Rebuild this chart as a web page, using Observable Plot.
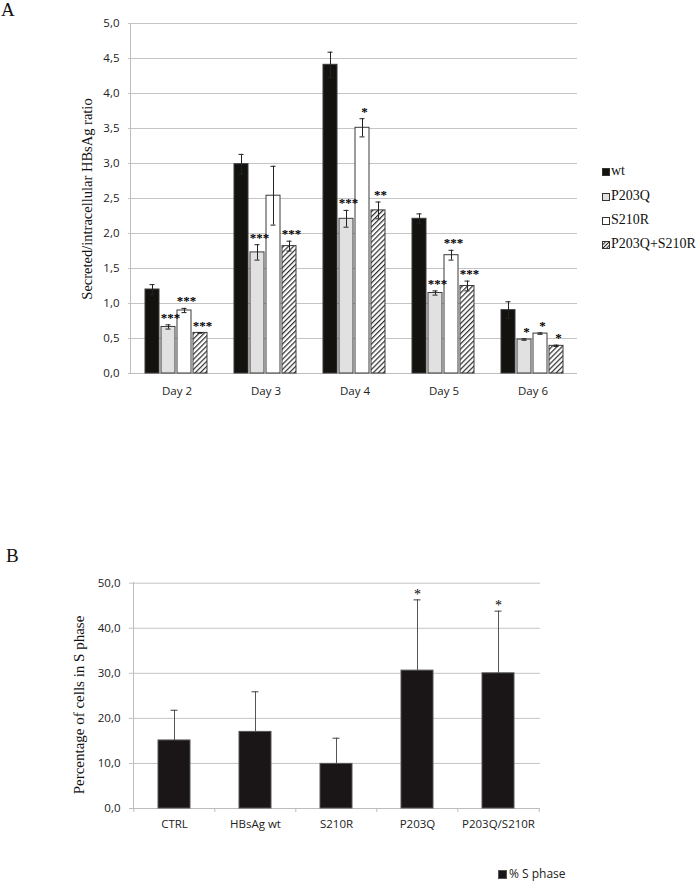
<!DOCTYPE html>
<html><head><meta charset="utf-8">
<script src="https://cdn.jsdelivr.net/npm/d3@7"></script>
<script src="https://cdn.jsdelivr.net/npm/@observablehq/plot@0.6"></script>
<style>
body{margin:0;background:#fff;}
#wrap{position:relative;width:700px;height:887px;overflow:hidden;background:#fff;}
.abs{position:absolute;white-space:nowrap;}
.serif{font-family:"Liberation Serif","Times New Roman",serif;color:#111;}
.sans{font-family:"Open Sans",sans-serif;color:#222;}
.rot{transform:translate(-50%,-50%) rotate(-90deg);}
svg.plot{position:absolute;left:0;}
</style></head><body><div id="wrap"></div>
<script>
// ---------- Panel A data ----------
const days = ["Day 2","Day 3","Day 4","Day 5","Day 6"];
const series = ["wt","P203Q","S210R","P203Q+S210R"];
const wtVals    = [1.20, 2.99, 4.41, 2.21, 0.905];
const wtErr     = [0.07, 0.14, 0.18, 0.07, 0.12];
const p203qVals = [0.665, 1.73, 2.21, 1.15, 0.485];
const p203qErr  = [0.03, 0.11, 0.12, 0.03, 0.01];
const s210rVals = [0.90, 2.54, 3.51, 1.69, 0.57];
const s210rErr  = [0.03, 0.42, 0.13, 0.07, 0.01];
const comboVals = [0.58, 1.82, 2.33, 1.25, 0.395];
const comboErr  = [0.005, 0.07, 0.12, 0.07, 0.01];
const wtSig     = ["", "", "", "", ""];
const p203qSig  = ["***", "***", "***", "***", "*"];
const s210rSig  = ["***", "", "*", "***", "*"];
const comboSig  = ["***", "***", "**", "***", "*"];
const yTicksA = [0, 0.5, 1, 1.5, 2, 2.5, 3, 3.5, 4, 4.5, 5];

// ---------- Panel B data ----------
const groupsB = ["CTRL", "HBsAg wt", "S210R", "P203Q", "P203Q/S210R"];
const sPhase    = [15.1, 17.0, 9.9, 30.6, 30.0];
const sPhaseErr = [6.7, 8.9, 5.7, 15.7, 13.8];
const sPhaseSig = ["", "", "", "*", "*"];
const yTicksB = [0, 10, 20, 30, 40, 50];

const fmt = v => d3.format(".1f")(v).replace(".", ",");
const wrap = document.getElementById("wrap");

// Build panel A table
const valsA = [wtVals, p203qVals, s210rVals, comboVals];
const errsA = [wtErr, p203qErr, s210rErr, comboErr];
const sigsA = [wtSig, p203qSig, s210rSig, comboSig];
const rowsA = [];
days.forEach((d, i) => series.forEach((s, j) => rowsA.push({
  day: d, series: s, value: valsA[j][i], err: errsA[j][i], sig: sigsA[j][i]
})));

const plotA = Plot.plot({
  width: 700, height: 410,
  marginLeft: 130, marginRight: 122, marginTop: 23, marginBottom: 37,
  style: {fontFamily: "'Open Sans', sans-serif", fontSize: "11.5px", color: "#222", background: "transparent", overflow: "visible"},
  fx: {domain: days, padding: 0, label: null, axis: "bottom", tickSize: 0, tickPadding: 13},
  x: {domain: series, axis: null, paddingInner: 0.1, paddingOuter: 0.75},
  y: {domain: [0, 5], ticks: yTicksA, tickFormat: fmt, label: null, tickSize: 0, tickPadding: 13},
  color: {domain: series, range: ["#14120f", "#e1e1e1", "#ffffff", "url(#hatchA)"]},
  marks: [
    Plot.ruleY(yTicksA.slice(1), {stroke: "#c4c4c4", strokeWidth: 1, insetLeft: -4}),
    Plot.ruleY([0], {stroke: "#bdbdbd", strokeWidth: 1, insetLeft: -4}),
    Plot.barY(rowsA, {fx: "day", x: "series", y: "value", fill: "series", stroke: "#3a3a3a", strokeWidth: 1}),
    Plot.ruleX(rowsA, {fx: "day", x: "series", y1: d => d.value - d.err, y2: d => d.value + d.err, stroke: "#222", strokeWidth: 1}),
    Plot.tickY(rowsA, {fx: "day", x: "series", y: d => d.value + d.err, stroke: "#222", insetLeft: 4.5, insetRight: 4.5}),
    Plot.tickY(rowsA, {fx: "day", x: "series", y: d => d.value - d.err, stroke: "#222", insetLeft: 4.5, insetRight: 4.5}),
    Plot.text(rowsA.filter(d => d.sig), {fx: "day", x: "series", y: d => d.value + d.err, text: "sig",
      lineAnchor: "bottom", dy: -3, dx: 2, fontFamily: "'Liberation Serif', serif", fontSize: 13, fontWeight: "bold", fill: "#000"})
  ]
});
plotA.classList.add("plot");
plotA.style.top = "0px";
plotA.insertAdjacentHTML("afterbegin",
  '<defs><pattern id="hatchA" patternUnits="userSpaceOnUse" width="3.6" height="3.6" patternTransform="rotate(45)">' +
  '<rect width="3.6" height="3.6" fill="#fff"/><line x1="0.6" y1="0" x2="0.6" y2="3.6" stroke="#2a2a2a" stroke-width="1.2"/></pattern></defs>');
wrap.appendChild(plotA);

// Panel B table
const rowsB = groupsB.map((g, i) => ({group: g, value: sPhase[i], err: sPhaseErr[i], sig: sPhaseSig[i]}));
const mLB = 133, mRB = 160, wB = 700;
const halfStepB = (wB - mLB - mRB) / groupsB.length / 2;
const plotB = Plot.plot({
  width: wB, height: 308,
  marginLeft: mLB, marginRight: mRB, marginTop: 42.7, marginBottom: 40,
  style: {fontFamily: "'Open Sans', sans-serif", fontSize: "11.5px", color: "#222", background: "transparent", overflow: "visible"},
  x: {domain: groupsB, paddingInner: 0.6, paddingOuter: 0.3, label: null, tickSize: 0, tickPadding: 11},
  y: {domain: [0, 50], ticks: yTicksB, tickFormat: fmt, label: null, tickSize: 0, tickPadding: 13},
  marks: [
    Plot.ruleY(yTicksB.slice(1), {stroke: "#c4c4c4", strokeWidth: 1, insetLeft: -4}),
    Plot.ruleY([0], {stroke: "#bdbdbd", strokeWidth: 1, insetLeft: -4}),
    Plot.ruleX(groupsB, {x: d => d, y1: 0, y2: 0, insetBottom: -4, dx: -halfStepB, stroke: "#bdbdbd"}),
    Plot.ruleX(groupsB.slice(-1), {x: d => d, y1: 0, y2: 0, insetBottom: -4, dx: halfStepB, stroke: "#bdbdbd"}),
    Plot.barY(rowsB, {x: "group", y: "value", fill: "#1a1516", stroke: "#555", strokeWidth: 1}),
    Plot.ruleX(rowsB, {x: "group", y1: "value", y2: d => d.value + d.err, stroke: "#555", strokeWidth: 1}),
    Plot.tickY(rowsB, {x: "group", y: d => d.value + d.err, stroke: "#444", insetLeft: 12.5, insetRight: 12.5}),
    Plot.text(rowsB.filter(d => d.sig), {x: "group", y: d => d.value + d.err, text: "sig",
      lineAnchor: "bottom", dy: -1, fontFamily: "'Liberation Serif', serif", fontSize: 14, fill: "#000"})
  ]
});
plotB.classList.add("plot");
plotB.style.top = "540px";
wrap.appendChild(plotB);

// left axis lines
function vline(x, y1, y2) {
  const d = document.createElement("div");
  d.className = "abs";
  d.style.cssText = `left:${x}px;top:${y1}px;width:1px;height:${y2 - y1}px;background:#bdbdbd;`;
  wrap.appendChild(d);
}
vline(130, 23, 374);
vline(133, 582, 808);

function addText(html, cls, css) {
  const d = document.createElement("div");
  d.className = "abs " + cls;
  d.style.cssText = css;
  d.innerHTML = html;
  wrap.appendChild(d);
  return d;
}
addText("A", "serif", "left:1px;top:0px;font-size:19px;line-height:19px;");
addText("B", "serif", "left:6px;top:546px;font-size:19px;line-height:19px;");
addText("Secreted/intracellular HBsAg ratio", "serif rot", "left:87px;top:199px;font-size:14.5px;");
addText("Percentage of cells in S phase", "serif rot", "left:79px;top:705px;font-size:15px;");

// Legend A
const swA = ["#14120f", "#e1e1e1", "#ffffff", "hatch"];
const legYs = [172, 197, 221, 245];
series.forEach((s, i) => {
  const fill = swA[i] === "hatch"
    ? `<svg width="8" height="8" style="position:absolute;left:0;top:0"><defs><pattern id="hl" patternUnits="userSpaceOnUse" width="2.6" height="2.6" patternTransform="rotate(45)"><rect width="2.6" height="2.6" fill="#fff"/><line x1="0.5" y1="0" x2="0.5" y2="2.6" stroke="#222" stroke-width="1"/></pattern></defs><rect x="0.5" y="0.5" width="7" height="7" fill="url(#hl)" stroke="#333"/></svg>`
    : `<svg width="8" height="8" style="position:absolute;left:0;top:0"><rect x="0.5" y="0.5" width="7" height="7" fill="${swA[i]}" stroke="#333"/></svg>`;
  addText(fill, "", `left:602px;top:${legYs[i] - 4}px;width:8px;height:8px;`);
  addText(s, "serif", `left:611px;top:${legYs[i] - 10}px;font-size:14px;line-height:18px;`);
});
// Legend B
addText(`<svg width="9" height="9" style="position:absolute;left:0;top:0"><rect x="0.5" y="0.5" width="8" height="8" fill="#1a1516" stroke="#555"/></svg>`, "", "left:498px;top:870px;width:9px;height:9px;");
addText("% S phase", "sans", "left:509px;top:865px;font-size:12px;line-height:17px;");
</script></body></html>
